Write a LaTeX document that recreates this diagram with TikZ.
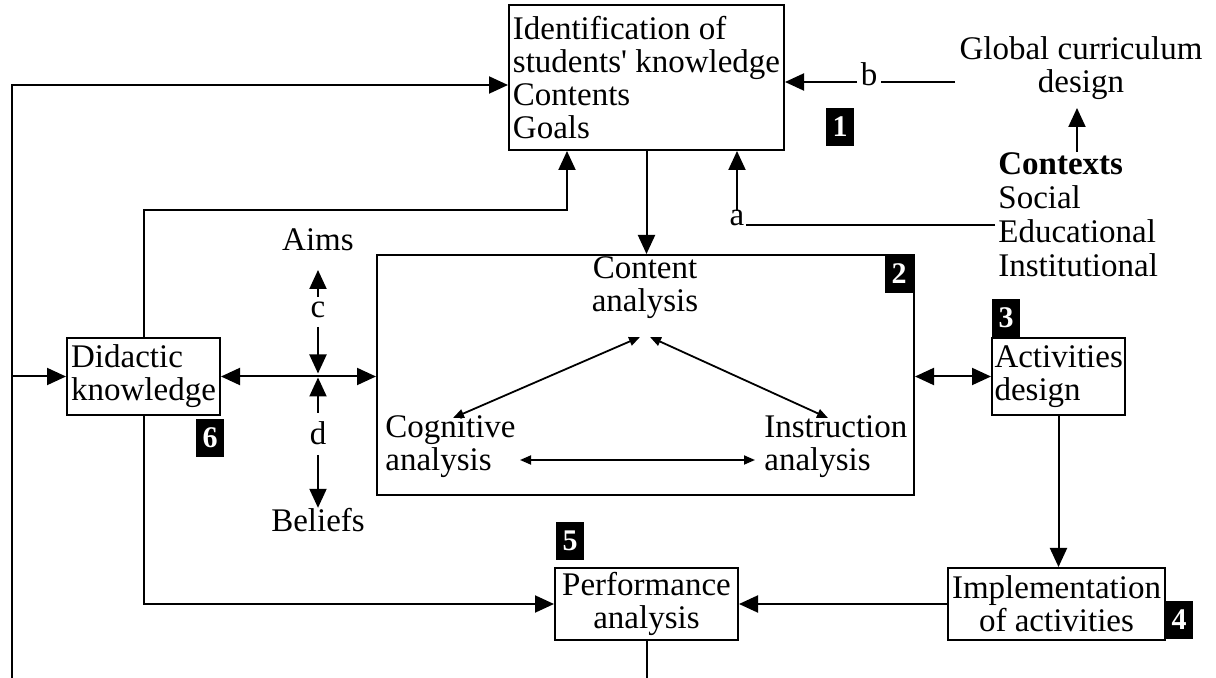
\documentclass[tikz,border=0pt]{standalone}
\usepackage{fontspec}
\setmainfont{Liberation Serif}
\usetikzlibrary{arrows.meta}
\begin{document}
\begin{tikzpicture}[x=0.5pt,y=-0.5pt,
  every node/.style={font=\fontsize{16.5}{16.5}\selectfont, inner sep=0pt},
  box/.style={draw, line width=1pt, inner sep=1.5pt},
  num/.style={fill=black, text=white, font=\fontsize{15}{15}\selectfont\bfseries, minimum width=14pt, minimum height=19pt, inner sep=0pt},
  conn/.style={line width=1pt, -{Triangle[length=9.5pt,width=8.5pt]}},
  dconn/.style={line width=1pt, {Triangle[length=9.5pt,width=8.5pt]}-{Triangle[length=9.5pt,width=8.5pt]}},
  sconn/.style={line width=0.9pt, {Triangle[length=5.5pt,width=4.5pt]}-{Triangle[length=5.5pt,width=4.5pt]}},
  plain/.style={line width=1pt}]
\useasboundingbox (0,0) rectangle (1216,678);

% boxes
\node[box, minimum width=137.5pt, minimum height=72.5pt, align=left] (ident) at (646.5,77.5)
  {Identification of\\students\textquotesingle\ knowledge\\Contents\\Goals};
\node[box, minimum width=268.5pt, minimum height=120pt] (box2) at (645.5,375) {};
\node[box, minimum width=76.5pt, minimum height=38.5pt, align=left] (did) at (143.5,376.5)
  {Didactic\\knowledge};
\node[box, minimum width=66.5pt, minimum height=38.5pt, text width=64pt, align=left, inner sep=1pt] (act) at (1058.5,376.5)
  {Activities\\design};
\node[box, minimum width=108.5pt, minimum height=36pt, align=center] (impl) at (1056.5,604)
  {Implementation\\of activities};
\node[box, minimum width=91.5pt, minimum height=36pt, align=center] (perf) at (646.5,604)
  {Performance\\analysis};

% free texts
\node[align=center] (global) at (1081,68) {Global curriculum\\design};
\node[align=left, anchor=north west, font=\fontsize{16.5}{17}\selectfont] (ctx) at (998,152)
  {\textbf{Contexts}\\Social\\Educational\\Institutional};
\node[align=center] (content) at (645,288) {Content\\analysis};
\node[align=left, anchor=west] (cog) at (385,447) {Cognitive\\analysis};
\node[align=left, anchor=west] (instr) at (764,447) {Instruction\\analysis};
\node (aims) at (318,240) {Aims};
\node (beliefs) at (318,520) {Beliefs};
\node (clab) at (318,310) {c};
\node (dlab) at (318,433) {d};
\node (blab) at (869,74) {b};
\node (alab) at (737,218) {a};

% number labels
\node[num] (n1) at (840,127) {1};
\node[num] (n2) at (899,274) {2};
\node[num] (n3) at (1006,318) {3};
\node[num] (n4) at (1179,620) {4};
\node[num] (n5) at (570,541) {5};
\node[num] (n6) at (210,438) {6};

% coordinates
\coordinate (Lbot) at (12,678);
\coordinate (Ltop) at (12,85);
\coordinate (k1) at (567,210);
\coordinate (b1) at (955,82);
\coordinate (b2) at (881,82);
\coordinate (b3) at (857,82);
\coordinate (a1) at (995,225);
\coordinate (a2) at (746,225);
\coordinate (a3) at (737,211);
\coordinate (ctxtop) at (1077,152);
\coordinate (gbot) at (1077,108);
\coordinate (J) at (318,376.5);
\coordinate (c1) at (318,297);
\coordinate (c2) at (318,270);
\coordinate (c3) at (318,327);
\coordinate (d1) at (318,413);
\coordinate (d2) at (318,455);
\coordinate (ct1) at (640,337);
\coordinate (ct2) at (650,337);
\coordinate (cg) at (453,418);
\coordinate (in) at (828,418);
\coordinate (h1) at (520,460);
\coordinate (h2) at (755,460);

% connectors
\draw[conn] (Lbot) -- (Ltop) -- (ident.west |- Ltop);
\draw[conn] (Ltop |- did.west) -- (did.west);
\draw[plain] (perf.south) -- (perf.south |- Lbot);
\draw[conn] (did.north) |- (k1) -- (ident.south -| k1);
\draw[conn] (did.south) |- (perf.west);
\draw[plain] (b1) -- (b2);
\draw[conn] (b3) -- (ident.east |- b3);
\draw[conn] (ctxtop) -- (gbot);
\draw[plain] (a1) -- (a2);
\draw[conn] (a3) -- (ident.south -| a3);
\draw[conn] (ident.south) -- (ident.south |- box2.north);
\draw[dconn] (did.east) -- (box2.west |- did.east);
\draw[conn] (c1) -- (c2);
\draw[conn, shorten >=1.5pt] (c3) -- (J);
\draw[conn, shorten >=0.5pt] (d1) -- (J);
\draw[conn] (d2) -- (beliefs.north);
\draw[sconn] (cg) -- (ct1);
\draw[sconn] (ct2) -- (in);
\draw[sconn] (h1) -- (h2);
\draw[dconn] (box2.east |- act.west) -- (act.west);
\draw[conn] (act.south) -- (act.south |- impl.north);
\draw[conn] (impl.west) -- (perf.east);
\end{tikzpicture}
\end{document}
